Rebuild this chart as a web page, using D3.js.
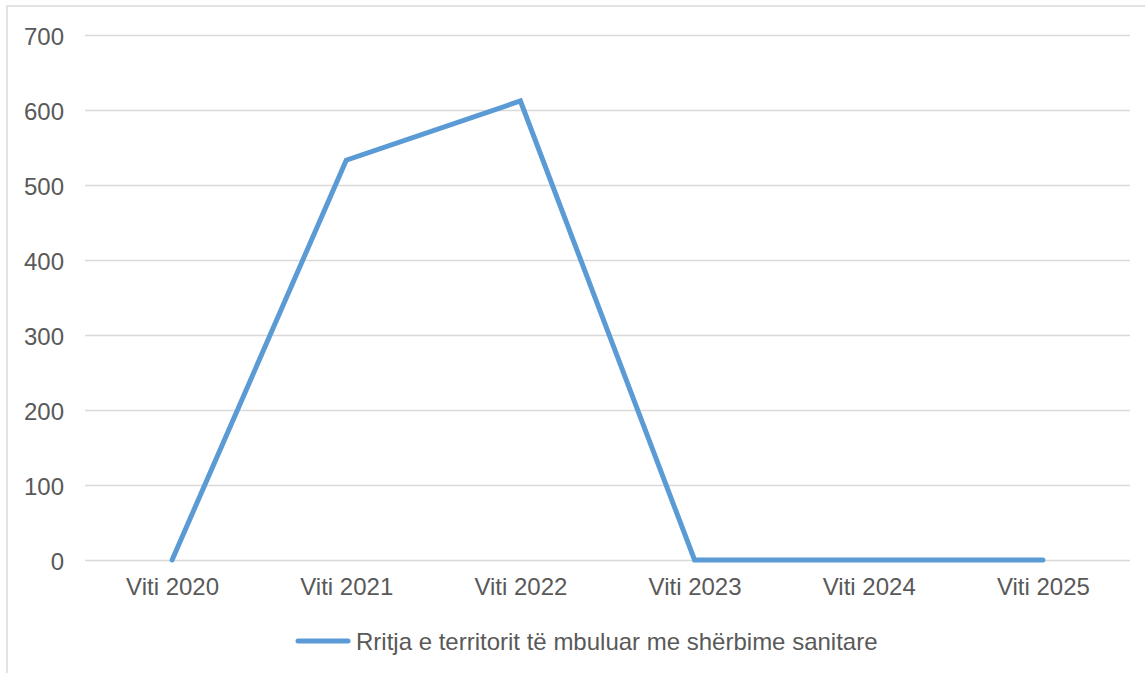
<!DOCTYPE html>
<html><head><meta charset="utf-8">
<script src="https://cdn.jsdelivr.net/npm/d3@7"></script>
<style>body{margin:0;background:#fff;}svg{display:block;font-family:"Liberation Sans",Arial,sans-serif;}</style>
</head><body>
<script>
const categories = ["Viti 2020","Viti 2021","Viti 2022","Viti 2023","Viti 2024","Viti 2025"];
const values = [0, 533, 612, 0, 0, 0];
const yTicks = [0,100,200,300,400,500,600,700];
const seriesName = "Rritja e territorit të mbuluar me shërbime sanitare";

const W = 1145, H = 673;
const svg = d3.select("body").append("svg").attr("width", W).attr("height", H);
svg.append("rect").attr("x",7).attr("y",6).attr("width",W+10).attr("height",H+10)
  .attr("fill","#fff").attr("stroke","#d9d9d9").attr("stroke-width",1.5);

const x = d3.scalePoint().domain(categories).range([85,1130]).padding(0.5);
const y = d3.scaleLinear().domain([0,700]).range([560,35]);

const gy = svg.append("g").attr("transform","translate(85,0)")
  .call(d3.axisLeft(y).tickValues(yTicks).tickSize(-1045).tickPadding(20));
gy.select(".domain").remove();
gy.selectAll(".tick line").attr("stroke","#d9d9d9").attr("stroke-width",1.5);
gy.selectAll(".tick text").attr("fill","#595959").style("font-size","24px").attr("x",-21).attr("dy","0.38em");

const gx = svg.append("g").attr("transform","translate(0,560)")
  .call(d3.axisBottom(x).tickSize(0).tickPadding(18));
gx.select(".domain").remove();
gx.selectAll(".tick text").attr("fill","#595959").style("font-size","24px");

const line = d3.line().x((d,i)=>x(categories[i])).y(d=>y(d));
svg.append("path").datum(values).attr("d",line).attr("fill","none")
  .attr("stroke","#5b9bd5").attr("stroke-width",5).attr("stroke-linecap","round").attr("stroke-linejoin","miter");

const lg = svg.append("g");
lg.append("line").attr("x1",298).attr("x2",348).attr("y1",641).attr("y2",641)
  .attr("stroke","#5b9bd5").attr("stroke-width",5).attr("stroke-linecap","round");
lg.append("text").attr("x",356).attr("y",650).attr("fill","#595959").style("font-size","24px").text(seriesName);
</script>
</body></html>
